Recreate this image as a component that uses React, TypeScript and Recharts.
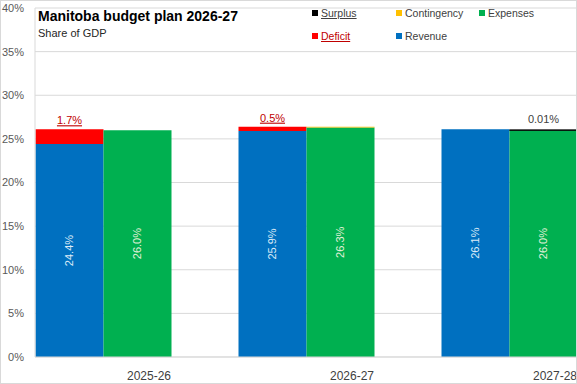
import React from 'react'
import { BarChart, Bar, XAxis, YAxis, CartesianGrid, LabelList } from 'recharts'

// Manitoba budget plan, share of GDP (%)
const years = ['2025-26', '2026-27', '2027-28']
const revenue = [24.4, 25.9, 26.1]
const deficit = [1.7, 0.5, 0]
const expenses = [26.0, 26.3, 26.0]
const contingency = [0, 0.1, 0]
const surplus = [0, 0, 0.01]
const yTicks = [0, 5, 10, 15, 20, 25, 30, 35, 40]

const chartData = years.map((year, i) => ({
  year,
  revenue: revenue[i],
  deficit: deficit[i],
  expenses: expenses[i],
  contingency: contingency[i],
  surplus: surplus[i],
}))

const FONT = '"Liberation Sans", Arial, sans-serif'
const BAR = 68

// legend is laid out in Excel's order (3 columns)
const legendItems = [
  { name: 'Surplus', color: '#000000', underline: true, text: '#404040' },
  { name: 'Contingency', color: '#FFC000', underline: false, text: '#404040' },
  { name: 'Expenses', color: '#00B050', underline: false, text: '#404040' },
  { name: 'Deficit', color: '#FF0000', underline: true, text: '#C00000' },
  { name: 'Revenue', color: '#0070C0', underline: false, text: '#404040' },
]

const fmt = (v: number) => `${v.toFixed(1)}%`

const insideLabel = (fill: string) => (props: any) => {
  const { x, y, width, height, value } = props
  if (!value) return null
  const cx = x + width / 2
  const cy = y + height / 2
  return (
    <text
      x={cx}
      y={cy}
      transform={`rotate(-90 ${cx} ${cy})`}
      textAnchor="middle"
      dominantBaseline="central"
      fill={fill}
      fontSize={11}
      fontFamily={FONT}
    >
      {fmt(value)}
    </text>
  )
}

const deficitLabel = (props: any) => {
  const { x, y, width, value } = props
  if (!value) return null
  return (
    <text
      x={x + width / 2}
      y={y - 5}
      textAnchor="middle"
      fill="#C00000"
      fontSize={11}
      fontFamily={FONT}
      style={{ textDecoration: 'underline' }}
    >
      {fmt(value)}
    </text>
  )
}

const surplusLabel = (props: any) => {
  const { x, y, width, value } = props
  if (!value) return null
  return (
    <text x={x + width / 2} y={y - 7} textAnchor="middle" fill="#404040" fontSize={11} fontFamily={FONT}>
      {`${value}%`}
    </text>
  )
}

const YearTick = ({ x, y, payload }: any) => (
  // labels sit flush with the right edge of each bar pair
  <text x={x + BAR} y={y + 21} textAnchor="end" fill="#404040" fontSize={12} fontFamily={FONT}>
    {payload.value}
  </text>
)

export default function App() {
  return (
    <div style={{ position: 'relative', width: 577, height: 384, background: '#fff', overflow: 'hidden' }}>
      <style>{'body{margin:0}'}</style>
      <BarChart
        width={577}
        height={384}
        data={chartData}
        margin={{ top: 8, right: 0, bottom: 0, left: 0 }}
        barSize={BAR}
        barGap={0}
      >
        <CartesianGrid vertical={false} stroke="#D9D9D9" />
        <XAxis
          dataKey="year"
          height={27}
          padding={{ left: -33.5, right: -33.5 }}
          axisLine={{ stroke: '#D9D9D9' }}
          tickLine={false}
          tickSize={0}
          tick={<YearTick />}
          interval={0}
        />
        <YAxis
          width={35}
          domain={[0, 40]}
          ticks={yTicks}
          tickFormatter={(v) => `${v}%`}
          axisLine={{ stroke: '#D9D9D9' }}
          tickLine={false}
          tickSize={0}
          tickMargin={11}
          tick={{ fill: '#595959', fontSize: 11, fontFamily: FONT }}
        />
        <Bar dataKey="revenue" name="Revenue" stackId="in" fill="#0070C0" isAnimationActive={false}>
          <LabelList dataKey="revenue" content={insideLabel('#DDEBF7')} />
        </Bar>
        <Bar dataKey="deficit" name="Deficit" stackId="in" fill="#FF0000" isAnimationActive={false}>
          <LabelList dataKey="deficit" content={deficitLabel} />
        </Bar>
        <Bar dataKey="expenses" name="Expenses" stackId="out" fill="#00B050" isAnimationActive={false}>
          <LabelList dataKey="expenses" content={insideLabel('#E2F0D9')} />
        </Bar>
        <Bar dataKey="contingency" name="Contingency" stackId="out" fill="#FFC000" isAnimationActive={false} />
        <Bar
          dataKey="surplus"
          name="Surplus"
          stackId="out"
          fill="#000000"
          stroke="#000000"
          strokeWidth={1}
          isAnimationActive={false}
        >
          <LabelList dataKey="surplus" content={surplusLabel} />
        </Bar>
      </BarChart>

      <div style={{ position: 'absolute', left: 38, top: 8, fontFamily: FONT, color: '#000' }}>
        <div style={{ fontSize: 14, fontWeight: 'bold', lineHeight: '17px' }}>Manitoba budget plan 2026-27</div>
        <div style={{ fontSize: 11, lineHeight: '13px', marginTop: 2, color: '#262626' }}>Share of GDP</div>
      </div>

      <div
        style={{
          position: 'absolute',
          left: 312,
          top: 6,
          width: 260,
          display: 'grid',
          gridTemplateColumns: '84px 83px 83px',
          rowGap: 10,
          fontFamily: FONT,
          fontSize: 10.5,
        }}
      >
        {legendItems.map((item) => (
          <div key={item.name} style={{ display: 'flex', alignItems: 'center', height: 13 }}>
            <span style={{ width: 6, height: 6, background: item.color, marginRight: 3 }} />
            <span style={{ color: item.text, textDecoration: item.underline ? 'underline' : 'none' }}>{item.name}</span>
          </div>
        ))}
      </div>

      <div
        style={{
          position: 'absolute',
          inset: 0,
          border: '1px solid #D9D9D9',
          pointerEvents: 'none',
        }}
      />
    </div>
  )
}
